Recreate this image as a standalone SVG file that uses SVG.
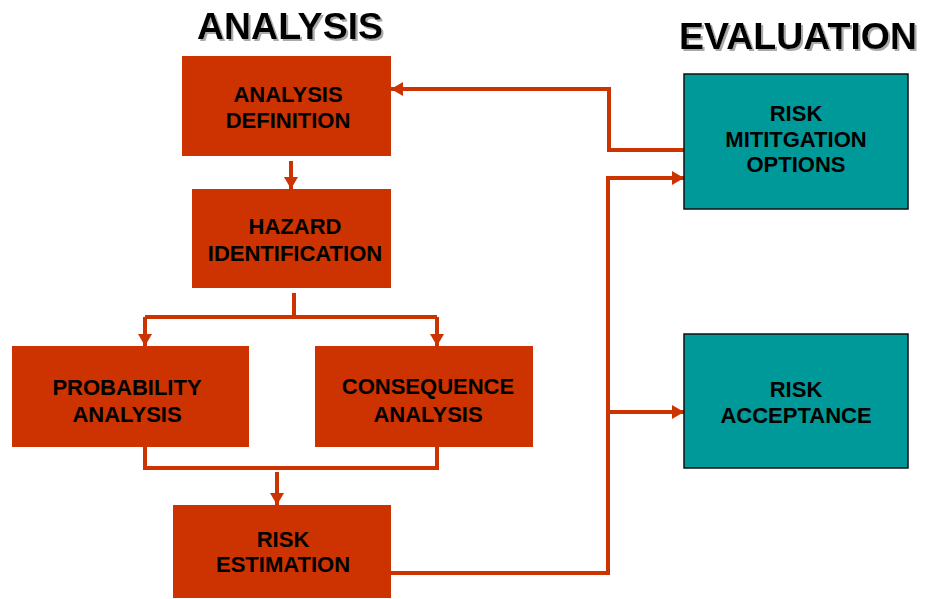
<svg xmlns="http://www.w3.org/2000/svg" width="926" height="599" viewBox="0 0 926 599">
  <defs>
    <marker id="arrow" viewBox="0 0 12 14" refX="12" refY="7" markerWidth="12" markerHeight="14" markerUnits="userSpaceOnUse" orient="auto">
      <path d="M0,0 L12,7 L0,14 Z" fill="#cc3300"/>
    </marker>
    <!-- Grey offset shadow behind the column headings -->
    <filter id="title-shadow" x="-5%" y="-20%" width="110%" height="140%">
      <feOffset in="SourceAlpha" dx="2" dy="2" result="off"/>
      <feFlood flood-color="#aaaaaa"/>
      <feComposite in2="off" operator="in" result="shadow"/>
      <feMerge>
        <feMergeNode in="shadow"/>
        <feMergeNode in="SourceGraphic"/>
      </feMerge>
    </filter>
    <style>
      .analysis { fill: #cc3300; }
      .evaluation { fill: #009999; stroke: #111; stroke-width: 1.5; }
      .label { font-family: "Liberation Sans", Arial, sans-serif; font-weight: bold; font-size: 22px; fill: #000; text-anchor: middle; }
      .title { font-family: "Liberation Sans", Arial, sans-serif; font-weight: bold; font-size: 37.5px; fill: #000; text-anchor: middle; filter: url(#title-shadow); }
      .link { fill: none; stroke: #cc3300; stroke-width: 4; stroke-linejoin: miter; }
    </style>
  </defs>

  <rect width="926" height="599" fill="#fff"/>

  <!-- Column headings -->
  <g id="heading-analysis">
    <text class="title" x="290" y="39">ANALYSIS</text>
  </g>
  <g id="heading-evaluation">
    <text class="title" x="798" y="49">EVALUATION</text>
  </g>

  <!-- Connectors -->
  <g id="connectors">
    <path class="link" d="M291,161 V189" marker-end="url(#arrow)"/>
    <path class="link" d="M294,293 V317"/>
    <path class="link" d="M145,317 H437"/>
    <path class="link" d="M145,317 V346" marker-end="url(#arrow)"/>
    <path class="link" d="M437,317 V346" marker-end="url(#arrow)"/>
    <path class="link" d="M145,447 V468 H437 V447"/>
    <path class="link" d="M277,472 V505" marker-end="url(#arrow)"/>
    <path class="link" d="M391,573 H608 V178 H684" marker-end="url(#arrow)"/>
    <path class="link" d="M608,412 H684" marker-end="url(#arrow)"/>
    <path class="link" d="M684,150 H609 V89 H391" marker-end="url(#arrow)"/>
  </g>

  <!-- Analysis steps -->
  <g id="analysis-definition">
    <rect class="analysis" x="182" y="56" width="209" height="100"/>
    <text class="label" x="288" y="102">ANALYSIS</text>
    <text class="label" x="288" y="128">DEFINITION</text>
  </g>
  <g id="hazard-identification">
    <rect class="analysis" x="192" y="189" width="199" height="99"/>
    <text class="label" x="295" y="234">HAZARD</text>
    <text class="label" x="295" y="261">IDENTIFICATION</text>
  </g>
  <g id="probability-analysis">
    <rect class="analysis" x="12" y="346" width="237" height="101"/>
    <text class="label" x="127" y="395">PROBABILITY</text>
    <text class="label" x="127" y="422">ANALYSIS</text>
  </g>
  <g id="consequence-analysis">
    <rect class="analysis" x="315" y="346" width="218" height="101"/>
    <text class="label" x="428" y="394">CONSEQUENCE</text>
    <text class="label" x="428" y="422">ANALYSIS</text>
  </g>
  <g id="risk-estimation">
    <rect class="analysis" x="173" y="505" width="218" height="93"/>
    <text class="label" x="283" y="547">RISK</text>
    <text class="label" x="283" y="572">ESTIMATION</text>
  </g>

  <!-- Evaluation steps -->
  <g id="risk-mitigation-options">
    <rect class="evaluation" x="684" y="74" width="224" height="135"/>
    <text class="label" x="796" y="121">RISK</text>
    <text class="label" x="796" y="147">MITITGATION</text>
    <text class="label" x="796" y="172">OPTIONS</text>
  </g>
  <g id="risk-acceptance">
    <rect class="evaluation" x="684" y="334" width="224" height="134"/>
    <text class="label" x="796" y="397">RISK</text>
    <text class="label" x="796" y="423">ACCEPTANCE</text>
  </g>
</svg>
